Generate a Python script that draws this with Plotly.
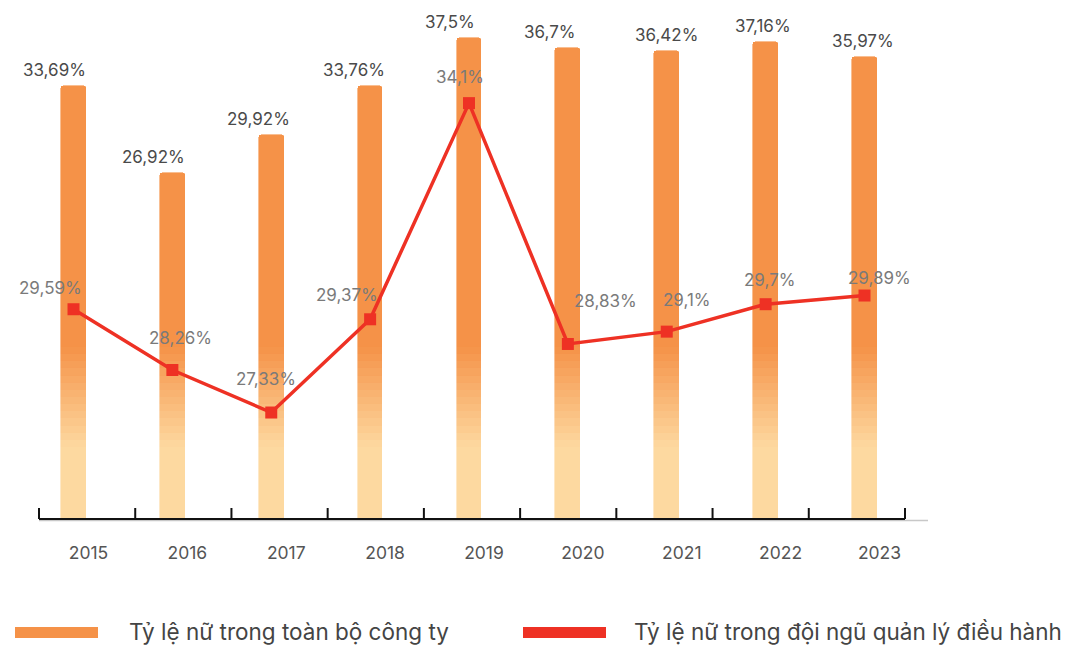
import plotly.graph_objects as go

# ---------------- data ----------------
years = ["2015", "2016", "2017", "2018", "2019", "2020", "2021", "2022", "2023"]
company_share = [33.69, 26.92, 29.92, 33.76, 37.5, 36.7, 36.42, 37.16, 35.97]
management_share = [29.59, 28.26, 27.33, 29.37, 34.1, 28.83, 29.1, 29.7, 29.89]
series_names = ["Tỷ lệ nữ trong toàn bộ công ty",
                "Tỷ lệ nữ trong đội ngũ quản lý điều hành"]

# label offsets (pixels) – styling only
company_label_dx = [-19, -19, -13, -16, -19, -18, 0, -3, -2]
management_label_dx = [-23, 8, -5, -23, -9, 38, 20, 4, 15]
management_label_dy = [21, 32, 34, 24, 26, 43, 32, 24, 18]

# ---------------- style ----------------
W, H = 1065, 646
FONT = "Inter"
ORANGE = (245, 146, 72)
LIGHT = (253, 217, 160)
RED = "#EE3124"
GRAD_LO, GRAD_HI, GRAD_STEPS = 5.6, 13.4, 14

PLOT_BOTTOM_PX, PLOT_TOP_PX = 519, 20
PX_PER_UNIT_Y1 = 12.84
PX_PER_UNIT_Y2 = 45.7
Y2_MIN = 25


def rgb(c):
    return "rgb(%d,%d,%d)" % tuple(int(round(v)) for v in c)


def mix(a, b, t):
    return tuple(a[i] + (b[i] - a[i]) * t for i in range(3))


def fmt(v):
    return str(v).replace(".", ",") + "%"


fig = go.Figure()

# gradient-filled bars, built as stacked segments of each bar value
bounds = [0.0, GRAD_LO]
for k in range(1, GRAD_STEPS + 1):
    bounds.append(GRAD_LO + (GRAD_HI - GRAD_LO) * k / GRAD_STEPS)
seg_colors = [rgb(LIGHT)]
for k in range(GRAD_STEPS):
    seg_colors.append(rgb(mix(LIGHT, ORANGE, (k + 0.5) / GRAD_STEPS)))

for i in range(len(bounds) - 1):
    a, b = bounds[i], bounds[i + 1]
    seg = [max(0.0, min(v, b) - a) for v in company_share]
    fig.add_trace(go.Bar(
        x=years, y=seg, width=0.25, yaxis="y",
        marker=dict(color=seg_colors[i], line=dict(width=0.6, color=seg_colors[i])),
        showlegend=False, hoverinfo="skip"))
top_seg = [max(0.0, v - GRAD_HI) for v in company_share]
fig.add_trace(go.Bar(
    x=years, y=top_seg, width=0.25, yaxis="y", name=series_names[0],
    marker=dict(color=rgb(ORANGE), line=dict(width=0.6, color=rgb(ORANGE))),
    showlegend=False))

# management line
fig.add_trace(go.Scatter(
    x=years, y=management_share, yaxis="y2", mode="lines+markers",
    name=series_names[1],
    line=dict(color=RED, width=3.5),
    marker=dict(symbol="square", size=12, color=RED),
    showlegend=False))

annotations = []
for i, (v, dx) in enumerate(zip(company_share, company_label_dx)):
    annotations.append(dict(
        x=i, y=v, xref="x", yref="y", text=fmt(v), showarrow=False,
        xanchor="center", yanchor="bottom", xshift=dx, yshift=4,
        font=dict(family=FONT, size=17, color="#4a4a4a")))
for i, (v, dx, dy) in enumerate(zip(management_share, management_label_dx, management_label_dy)):
    annotations.append(dict(
        x=i, y=v, xref="x", yref="y2", text=fmt(v), showarrow=False,
        xanchor="center", yanchor="middle", xshift=dx, yshift=dy,
        font=dict(family=FONT, size=17, color="#7a7a7a")))

# legend (manual)
legend_y_px = 631
legend_items = [(15, 98, 127, rgb(ORANGE)), (523, 606, 632, RED)]
shapes = []
for (x0, x1, tx, col), name in zip(legend_items, series_names):
    shapes.append(dict(type="rect", xref="paper", yref="paper",
                       x0=x0 / W, x1=x1 / W,
                       y0=1 - (legend_y_px + 7) / H, y1=1 - (legend_y_px - 4) / H,
                       fillcolor=col, line=dict(width=0)))
    annotations.append(dict(
        x=tx / W, y=1 - legend_y_px / H, xref="paper", yref="paper",
        text=name, showarrow=False, xanchor="left", yanchor="middle",
        font=dict(family=FONT, size=22.5, color="#444444")))

# axis baseline with tick marks
AX_X0, AX_X1, AX_EXT = 39, 905, 928
shapes.append(dict(type="line", xref="paper", yref="paper",
                   x0=AX_X0 / W, x1=AX_EXT / W,
                   y0=1 - 520.5 / H, y1=1 - 520.5 / H,
                   line=dict(color="#c8c8c8", width=1.5)))
shapes.append(dict(type="line", xref="paper", yref="paper",
                   x0=AX_X0 / W, x1=AX_X1 / W,
                   y0=1 - 519 / H, y1=1 - 519 / H,
                   line=dict(color="#111111", width=2)))
n_ticks = len(years) + 1
for k in range(n_ticks):
    xp = AX_X0 + (AX_X1 - AX_X0) * k / (n_ticks - 1)
    shapes.append(dict(type="line", xref="paper", yref="paper",
                       x0=xp / W, x1=xp / W,
                       y0=1 - 519 / H, y1=1 - 508 / H,
                       line=dict(color="#111111", width=2)))

c0, spacing = 73.5, 98.875
x_dom = [(c0 - spacing / 2) / W, (c0 + (len(years) - 0.5) * spacing) / W]
y_dom = [1 - PLOT_BOTTOM_PX / H, 1 - PLOT_TOP_PX / H]
plot_h = PLOT_BOTTOM_PX - PLOT_TOP_PX

fig.update_layout(
    width=W, height=H,
    margin=dict(l=0, r=0, t=0, b=0),
    paper_bgcolor="white", plot_bgcolor="white",
    barmode="stack", bargap=0, barcornerradius=3,
    showlegend=False,
    font=dict(family=FONT),
    xaxis=dict(type="category", domain=x_dom, range=[-0.5, len(years) - 0.5],
               showgrid=False, zeroline=False, showline=False, ticks="",
               tickfont=dict(family=FONT, size=17.5, color="#555555"),
               ticklabelshift=15, ticklabelstandoff=21, fixedrange=True),
    yaxis=dict(domain=y_dom, range=[0, plot_h / PX_PER_UNIT_Y1], visible=False,
               fixedrange=True),
    yaxis2=dict(overlaying="y", range=[Y2_MIN, Y2_MIN + plot_h / PX_PER_UNIT_Y2],
                visible=False, fixedrange=True),
    annotations=annotations,
    shapes=shapes,
)

fig.write_html("out.html", config={"displayModeBar": False},
               post_script="document.body.style.margin='0';document.body.style.overflow='hidden';")
